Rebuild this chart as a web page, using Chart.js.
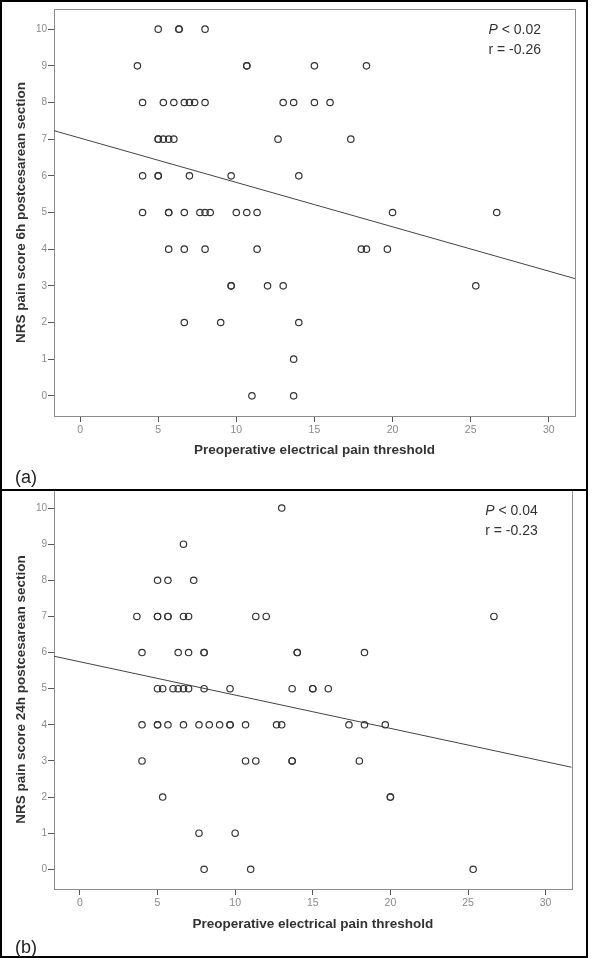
<!DOCTYPE html>
<html>
<head>
<meta charset="utf-8">
<script src="https://cdn.jsdelivr.net/npm/chart.js@4"></script>
<style>
  html, body { margin: 0; padding: 0; background: #fff; }
  body { width: 592px; height: 958px; position: relative; overflow: hidden; font-family: "Liberation Sans", Arial, sans-serif; }
  canvas { position: absolute; left: 0; }
  #chartA { top: 0; }
  #chartB { top: 470px; }
  .frame { position: absolute; left: 0; width: 588px; box-sizing: border-box; border: 2px solid #000; pointer-events: none; }
  #frameA { top: 0; height: 491px; }
  #frameB { top: 489px; height: 469px; }
  .tag { position: absolute; left: 15px; font-size: 18px; line-height: 18px; color: #222; }
</style>
</head>
<body>
<canvas id="chartA" width="588" height="489"></canvas>
<canvas id="chartB" width="588" height="488"></canvas>
<div class="frame" id="frameA"></div>
<div class="frame" id="frameB"></div>
<div class="tag" style="top:468px">(a)</div>
<div class="tag" style="top:938px">(b)</div>
<script>
// axis setup
const xTicks = [0, 5, 10, 15, 20, 25, 30];
const yTicks = [0, 1, 2, 3, 4, 5, 6, 7, 8, 9, 10];
const xTitle = 'Preoperative electrical pain threshold';

// (a) 6h scores: threshold (x) vs NRS (y)
const thresholdA = [
  5, 6.33, 6.33, 8,
  3.67, 10.67, 10.67, 15, 18.33,
  4, 5.33, 6, 6.67, 7, 7.33, 8, 13, 13.67, 15, 16,
  5, 5, 5.33, 5.67, 6, 12.67, 17.33,
  4, 5, 5, 7, 9.67, 14,
  4, 5.67, 5.67, 6.67, 7.67, 8, 8.33, 10, 10.67, 11.33, 20, 26.67,
  5.67, 6.67, 8, 11.33, 18, 18.33, 19.67,
  9.67, 9.67, 12, 13, 25.33,
  6.67, 9, 14,
  13.67,
  11, 13.67
];
const scoreA = [
  10, 10, 10, 10,
  9, 9, 9, 9, 9,
  8, 8, 8, 8, 8, 8, 8, 8, 8, 8, 8,
  7, 7, 7, 7, 7, 7, 7,
  6, 6, 6, 6, 6, 6,
  5, 5, 5, 5, 5, 5, 5, 5, 5, 5, 5, 5,
  4, 4, 4, 4, 4, 4, 4,
  3, 3, 3, 3, 3,
  2, 2, 2,
  1,
  0, 0
];
const fitA = { intercept: 7.03, slope: -0.121 };
const statsA = { p: '0.02', r: '-0.26' };

// (b) 24h scores
const thresholdB = [
  13,
  6.67,
  5, 5.67, 7.33,
  3.67, 5, 5, 5.67, 5.67, 6.67, 7, 11.33, 12, 26.67,
  4, 6.33, 7, 8, 8, 14, 14, 18.33,
  5, 5.33, 6, 6.33, 6.67, 7, 8, 9.67, 13.67, 15, 15, 16,
  4, 5, 5, 5.67, 6.67, 7.67, 8.33, 9, 9.67, 9.67, 10.67, 12.67, 13, 17.33, 18.33, 19.67,
  4, 10.67, 11.33, 13.67, 13.67, 18,
  5.33, 20, 20,
  7.67, 10,
  8, 11, 25.33
];
const scoreB = [
  10,
  9,
  8, 8, 8,
  7, 7, 7, 7, 7, 7, 7, 7, 7, 7,
  6, 6, 6, 6, 6, 6, 6, 6,
  5, 5, 5, 5, 5, 5, 5, 5, 5, 5, 5, 5,
  4, 4, 4, 4, 4, 4, 4, 4, 4, 4, 4, 4, 4, 4, 4, 4,
  3, 3, 3, 3, 3, 3,
  2, 2, 2,
  1, 1,
  0, 0, 0
];
const fitB = { intercept: 5.745, slope: -0.0922 };
const statsB = { p: '0.04', r: '-0.23' };

const xMin = -1.67, xMax = 31.68;

Chart.defaults.font.family = '"Liberation Sans", Arial, sans-serif';

// grey box round the plot + the P / r note
const framePlugin = {
  id: 'frame',
  beforeDatasetsDraw(chart) {
    const { ctx, chartArea: a } = chart;
    ctx.save();
    ctx.strokeStyle = '#8c8c8c';
    ctx.lineWidth = 1;
    ctx.strokeRect(Math.round(a.left) + 0.5, Math.round(a.top) + 0.5, Math.round(a.width), Math.round(a.height));
    ctx.restore();
  },
  afterDatasetsDraw(chart, args, opts) {
    const { ctx, chartArea: a } = chart;
    const right = a.right - 34;
    ctx.save();
    ctx.fillStyle = '#333';
    ctx.textBaseline = 'middle';
    ctx.font = 'italic 14px "Liberation Sans", Arial, sans-serif';
    const wP = ctx.measureText('P').width;
    ctx.font = '14px "Liberation Sans", Arial, sans-serif';
    const rest = ' < ' + opts.p;
    const wRest = ctx.measureText(rest).width;
    ctx.textAlign = 'left';
    ctx.fillText(rest, right - wRest, a.top + 21);
    ctx.font = 'italic 14px "Liberation Sans", Arial, sans-serif';
    ctx.fillText('P', right - wRest - wP, a.top + 21);
    ctx.font = '14px "Liberation Sans", Arial, sans-serif';
    ctx.textAlign = 'right';
    ctx.fillText('r = ' + opts.r, right, a.top + 41.5);
    ctx.restore();
  }
};

function makeChart(id, xs, ys, fit, stats, yTitle, box) {
  const points = xs.map((x, i) => ({ x: x, y: ys[i] }));
  const line = [xMin, xMax].map(x => ({ x: x, y: fit.intercept + fit.slope * x }));
  return new Chart(document.getElementById(id), {
    type: 'scatter',
    data: {
      datasets: [
        {
          data: points,
          pointStyle: 'circle',
          pointRadius: 3.2,
          pointBorderWidth: 1.2,
          pointBorderColor: '#333',
          pointBackgroundColor: 'rgba(0,0,0,0)'
        },
        {
          type: 'line',
          data: line,
          borderColor: '#444',
          borderWidth: 1,
          pointRadius: 0,
          fill: false
        }
      ]
    },
    options: {
      responsive: false,
      animation: false,
      events: [],
      layout: { padding: { top: box.padTop, right: box.padRight, left: 0, bottom: 0 } },
      plugins: {
        legend: { display: false },
        tooltip: { enabled: false },
        frame: stats
      },
      scales: {
        x: {
          type: 'linear',
          min: xMin,
          max: xMax,
          afterBuildTicks: s => { s.ticks = xTicks.map(v => ({ value: v })); },
          afterFit: s => { s.height = box.xAxisHeight; },
          grid: { drawOnChartArea: false, tickLength: 6, tickColor: '#555' },
          border: { display: false },
          ticks: { color: '#8a8a8a', font: { size: 10.5 }, padding: 1.5, autoSkip: false, maxRotation: 0 },
          title: {
            display: true, text: xTitle, color: '#333',
            font: { size: 13.5, weight: 'bold' },
            padding: { top: 0, bottom: box.xTitlePad }
          }
        },
        y: {
          type: 'linear',
          min: box.yMin,
          max: box.yMax,
          afterBuildTicks: s => { s.ticks = yTicks.map(v => ({ value: v })); },
          afterFit: s => { s.width = 54; },
          grid: { drawOnChartArea: false, tickLength: 6, tickColor: '#555' },
          border: { display: false },
          ticks: { color: '#8a8a8a', font: { size: 10 }, padding: 1 },
          title: {
            display: true, text: yTitle, color: '#333',
            font: { size: 13.5, weight: 'bold' },
            padding: { top: 13.6, bottom: 0 }
          }
        }
      }
    },
    plugins: [framePlugin]
  });
}

makeChart('chartA', thresholdA, scoreA, fitA, statsA, 'NRS pain score 6h postcesarean section',
  { padTop: 9, padRight: 13, xAxisHeight: 73, xTitlePad: 30.2, yMin: -0.55, yMax: 10.55 });
makeChart('chartB', thresholdB, scoreB, fitB, statsB, 'NRS pain score 24h postcesarean section',
  { padTop: 20, padRight: 16.3, xAxisHeight: 69, xTitlePad: 25.9, yMin: -0.545, yMax: 10.5 });
</script>
</body>
</html>
